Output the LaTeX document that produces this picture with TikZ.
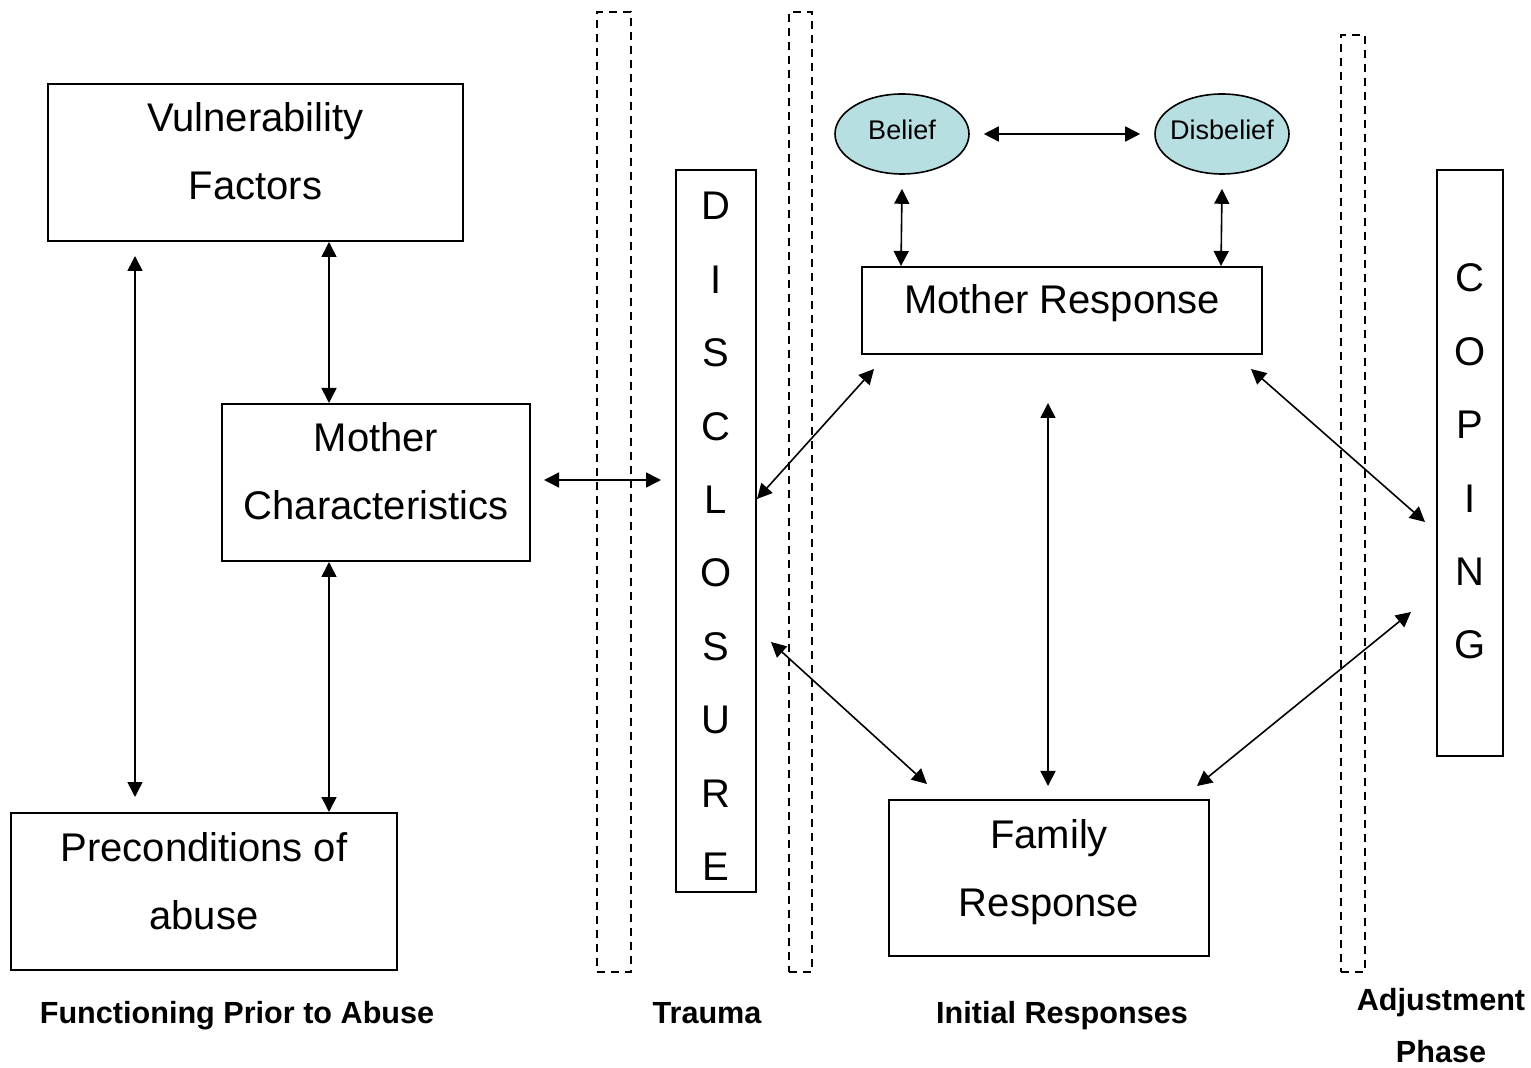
\documentclass[tikz,border=0pt]{standalone}
\usepackage{fontspec}
\setmainfont{Liberation Sans}
\usetikzlibrary{arrows.meta,shapes.geometric,calc}
\definecolor{ellfill}{RGB}{183,222,224}
\begin{document}
\begin{tikzpicture}[x=0.5pt,y=-0.5pt,
  box/.style={draw,line width=1pt,inner sep=0pt},
  ell/.style={ellipse,draw,line width=0.8pt,fill=ellfill,inner sep=0pt,minimum width=67pt,minimum height=40pt},
  big/.style={font=\fontsize{20pt}{24pt}\selectfont,inner sep=0pt,anchor=base},
  small/.style={font=\fontsize{13.5pt}{16pt}\selectfont,inner sep=0pt,anchor=base},
  lab/.style={font=\fontsize{15.3pt}{18pt}\selectfont\bfseries,inner sep=0pt,anchor=base},
  col/.style={draw,line width=1.35pt,dash pattern=on 4pt off 3pt,inner sep=0pt},
  arr/.style={line width=0.8pt,{Triangle[length=7.5pt,width=7.5pt]}-{Triangle[length=7.5pt,width=7.5pt]}}]
\useasboundingbox (0,0) rectangle (1531,1068);
% dashed phase separators
\node[col,minimum width=17pt,minimum height=480pt] (d1) at (614,492) {};
\node[col,minimum width=11.5pt,minimum height=480pt] (d2) at (800.5,492) {};
\node[col,minimum width=12pt,minimum height=468.5pt] (d3) at (1353,503.5) {};
% boxes
\node[box,minimum width=207.5pt,minimum height=78.5pt] (vf) at (255.5,162.5) {};
\node[big] (vf1) at (255.5,132) {Vulnerability};
\node[big] (vf2) at (255.5,200) {Factors};
\node[box,minimum width=154pt,minimum height=78.5pt] (mc) at (376,482.5) {};
\node[big] (mc1) at (376,452) {Mother};
\node[big] (mc2) at (376,520) {Characteristics};
\node[box,minimum width=193pt,minimum height=78.5pt] (pc) at (204,891.5) {};
\node[big] (pc1) at (204,861) {Preconditions of};
\node[big] (pc2) at (204,929) {abuse};
\node[box,minimum width=40pt,minimum height=361pt] (disc) at (716,531) {};
\foreach \L [count=\i from 0] in {D,I,S,C,L,O,S,U,R,E}
  \node[big] (disc\i) at (716,220+73.4*\i) {\L};
\node[ell] (belief) at (902,134) {};
\node[small] (belieft) at (902,140) {Belief};
\node[ell] (disbelief) at (1222,134) {};
\node[small] (disbelieft) at (1222,140) {Disbelief};
\node[box,minimum width=200pt,minimum height=43.5pt] (mr) at (1062,310.5) {};
\node[big] (mrt) at (1062,314) {Mother Response};
\node[box,minimum width=160pt,minimum height=78pt] (fr) at (1049,878) {};
\node[big] (fr1) at (1049,848) {Family};
\node[big] (fr2) at (1049,916) {Response};
\node[box,minimum width=33pt,minimum height=293pt] (cop) at (1470,463) {};
\foreach \L [count=\i from 0] in {C,O,P,I,N,G}
  \node[big] (cop\i) at (1470,292+73.4*\i) {\L};
% phase labels
\node[lab] (l1) at (237,1023) {Functioning Prior to Abuse};
\node[lab] (l2) at (707,1023) {Trauma};
\node[lab] (l3) at (1062,1023) {Initial Responses};
\node[lab] (l4) at (1441,1010) {Adjustment};
\node[lab] (l5) at (1441,1062) {Phase};
% connectors
\draw[arr] ($(vf.south west)+(282,0)$) -- ($(mc.north west)+(108,0)$);
\draw[arr] ($(vf.south west)+(88,14)$) -- ($(pc.north west)+(125,-15)$);
\draw[arr] ($(mc.south west)+(108,0)$) -- ($(pc.north west)+(319,0)$);
\draw[arr] ($(mc.east)+(13,-2.5)$) -- ($(disc.west)+(-14,-51)$);
\draw[arr] ($(disc.east)+(0,-32)$) -- ($(mr.south west)+(13,14)$);
\draw[arr] ($(disc.east)+(14,111)$) -- ($(fr.north west)+(39,-15)$);
\draw[arr] ($(mr.south west)+(187,48)$) -- ($(fr.north west)+(160,-13)$);
\draw[arr] ($(mr.south east)+(-12,14)$) -- ($(cop.west)+(-11,59)$);
\draw[arr] ($(fr.north east)+(-13,-13)$) -- ($(cop.west)+(-25,149)$);
\draw[arr] ($(belief.east)+(14,0)$) -- ($(disbelief.west)+(-14,0)$);
\draw[arr] ($(belief.south)+(0,14)$) -- ($(mr.north west)+(40,0)$);
\draw[arr] ($(disbelief.south)+(0,14)$) -- ($(mr.north west)+(360,0)$);
\end{tikzpicture}
\end{document}
